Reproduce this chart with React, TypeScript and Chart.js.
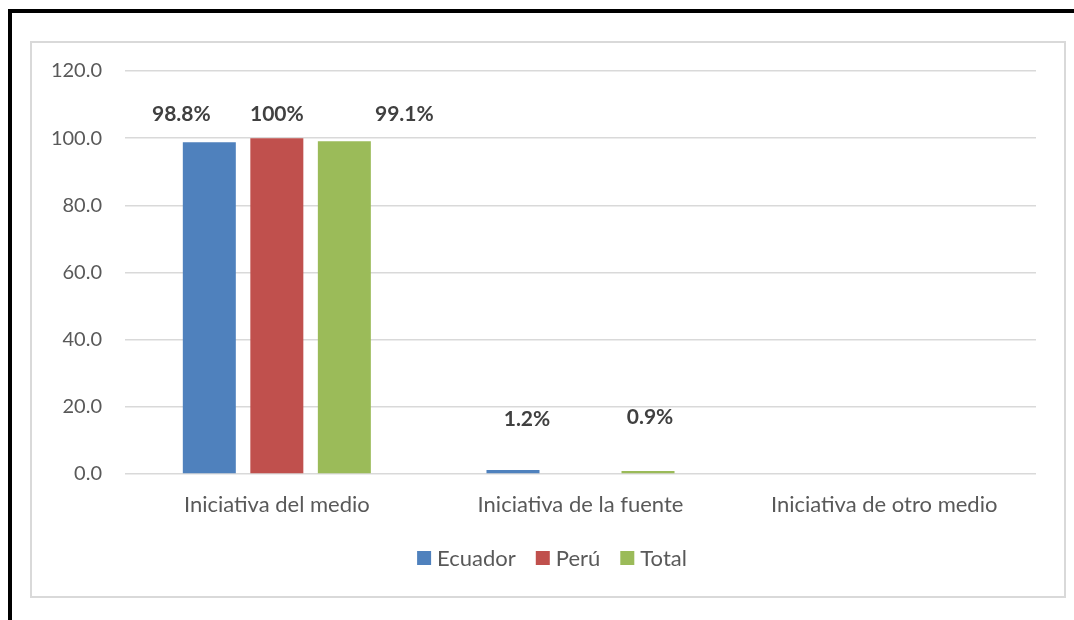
import React, { useEffect, useRef } from "react";
import { Chart, registerables } from "chart.js";

Chart.register(...registerables);

const categories = ["Iniciativa del medio", "Iniciativa de la fuente", "Iniciativa de otro medio"];
const seriesNames = ["Ecuador", "Perú", "Total"];
const ecuadorValues = [98.8, 1.2, 0];
const peruValues = [100, 0, 0];
const totalValues = [99.1, 0.9, 0];
const ecuadorLabels = ["98.8%", "1.2%", ""];
const peruLabels = ["100%", "", ""];
const totalLabels = ["99.1%", "0.9%", ""];
const yTicks = [0, 20, 40, 60, 80, 100, 120];

const colors = ["#4f81bd", "#c0504d", "#9bbb59"];
const FONT = "Lato, 'Open Sans', sans-serif";

// label offsets (dx, dy) in px relative to bar top-center, per series per category
const labelOffsets = [
  [[-28, -28], [14, -51], [0, 0]],
  [[0, -24], [0, 0], [0, 0]],
  [[60, -27], [2, -54], [0, 0]],
];

const labelPlugin = {
  id: "barLabels",
  afterDatasetsDraw(chart: any) {
    const ctx = chart.ctx;
    const allLabels = [ecuadorLabels, peruLabels, totalLabels];
    ctx.save();
    ctx.font = `bold 21px ${FONT}`;
    ctx.fillStyle = "#404040";
    ctx.textAlign = "center";
    ctx.textBaseline = "middle";
    chart.data.datasets.forEach((ds: any, i: number) => {
      const meta = chart.getDatasetMeta(i);
      meta.data.forEach((bar: any, j: number) => {
        const t = allLabels[i][j];
        if (!t) return;
        const [dx, dy] = labelOffsets[i][j];
        ctx.fillText(t, bar.x + dx, bar.y + dy);
      });
    });
    ctx.restore();
  },
};

const legendPlugin = {
  id: "customLegend",
  afterDraw(chart: any) {
    const ctx = chart.ctx;
    ctx.save();
    ctx.font = `22px ${FONT}`;
    ctx.textBaseline = "middle";
    const box = 14;
    const gapBoxText = 6;
    const gapItems = 20;
    const items = chart.data.datasets.map((ds: any) => ({
      label: ds.label,
      color: ds.backgroundColor,
      w: box + gapBoxText + ctx.measureText(ds.label).width,
    }));
    const total = items.reduce((s: number, it: any) => s + it.w, 0) + gapItems * (items.length - 1);
    const cx = 552;
    let x = cx - total / 2;
    const y = chart.chartArea.bottom + 84;
    items.forEach((it: any) => {
      ctx.fillStyle = it.color;
      ctx.fillRect(x, y - box / 2, box, box);
      ctx.fillStyle = "#595959";
      ctx.textAlign = "left";
      ctx.fillText(it.label, x + box + gapBoxText, y + 1);
      x += it.w + gapItems;
    });
    ctx.restore();
  },
};

export default function App() {
  const ref = useRef<HTMLCanvasElement>(null);
  useEffect(() => {
    if (!ref.current) return;
    const values = [ecuadorValues, peruValues, totalValues];
    const chart = new Chart(ref.current, {
      type: "bar",
      data: {
        labels: categories,
        datasets: seriesNames.map((n, i) => ({
          label: n,
          data: values[i],
          backgroundColor: colors[i],
          borderWidth: 0,
          categoryPercentage: 0.667,
          barPercentage: 0.785,
        })),
      },
      options: {
        responsive: false,
        animation: false,
        layout: { padding: { top: 71, right: 14, bottom: 106, left: 0 } },
        plugins: { legend: { display: false }, tooltip: { enabled: false } },
        scales: {
          x: {
            grid: { display: false, drawTicks: false },
            border: { display: false },
            ticks: { color: "#595959", font: { family: FONT, size: 22 }, padding: 18 },
            afterFit: (s: any) => { s.height = 40; },
          },
          y: {
            min: 0,
            max: 120,
            afterBuildTicks: (s: any) => { s.ticks = yTicks.map((v) => ({ value: v })); },
            grid: { color: "#d9d9d9", lineWidth: 1.5, drawTicks: false },
            border: { display: false },
            ticks: {
              color: "#595959",
              font: { family: FONT, size: 20 },
              padding: 23,
              callback: (v: any) => Number(v).toFixed(1),
            },
            afterFit: (s: any) => { s.width = 125; },
          },
        },
      },
      plugins: [labelPlugin, legendPlugin],
    });
    return () => chart.destroy();
  }, []);

  return (
    <div style={{ position: "fixed", left: 0, top: 0, width: 1074, height: 620, background: "#fff", overflow: "hidden" }}>
      <div style={{ position: "absolute", left: 8, top: 9, width: 1066, height: 4, background: "#000" }} />
      <div style={{ position: "absolute", left: 8, top: 9, width: 4, height: 611, background: "#000" }} />
      <div style={{ position: "absolute", left: 30, top: 41, width: 1036, height: 557, border: "2px solid #d9d9d9", boxSizing: "border-box" }} />
      <canvas ref={ref} width={1050} height={620} style={{ position: "absolute", left: 0, top: 0 }} />
    </div>
  );
}
